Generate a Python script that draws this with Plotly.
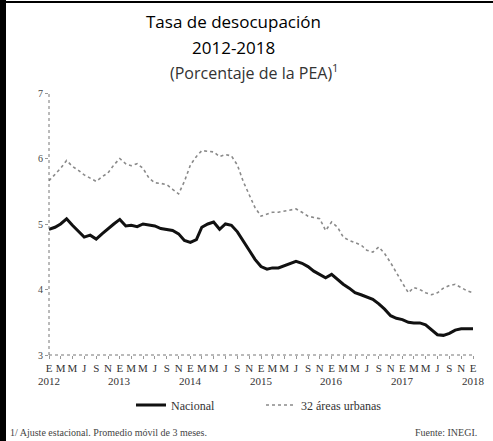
import pandas as pd
import plotly.graph_objects as go

months = pd.date_range("2012-01-01", periods=73, freq="MS")

nacional = [4.92, 4.95, 5.00, 5.08, 4.98, 4.88, 4.80, 4.83, 4.77, 4.85, 4.93, 5.00,
            5.07, 4.97, 4.98, 4.96, 5.00, 4.99, 4.97, 4.93, 4.91, 4.90, 4.85, 4.75,
            4.72, 4.76, 4.95, 5.00, 5.03, 4.92, 5.00, 4.98, 4.88, 4.75, 4.60, 4.46,
            4.35, 4.31, 4.33, 4.33, 4.36, 4.40, 4.43, 4.40, 4.35, 4.28, 4.23, 4.18,
            4.23, 4.15, 4.08, 4.02, 3.95, 3.92, 3.88, 3.85, 3.78, 3.70, 3.60, 3.56,
            3.54, 3.50, 3.49, 3.49, 3.46, 3.38, 3.31, 3.30, 3.33, 3.38, 3.40, 3.40,
            3.40]

urbanas = [5.66, 5.75, 5.85, 5.97, 5.88, 5.82, 5.75, 5.70, 5.65, 5.72, 5.78, 5.90,
           6.00, 5.92, 5.89, 5.92, 5.85, 5.70, 5.63, 5.62, 5.60, 5.53, 5.46, 5.65,
           5.90, 6.03, 6.12, 6.11, 6.10, 6.03, 6.06, 6.04, 5.90, 5.65, 5.45, 5.25,
           5.12, 5.15, 5.18, 5.18, 5.20, 5.22, 5.23, 5.18, 5.12, 5.10, 5.08, 4.90,
           5.03, 4.95, 4.80, 4.75, 4.72, 4.68, 4.60, 4.57, 4.65, 4.55, 4.41, 4.25,
           4.10, 3.95, 4.03, 4.00, 3.95, 3.92, 3.95, 4.02, 4.06, 4.08, 4.03, 3.98,
           3.95]

month_letters = ["E", "M", "M", "J", "S", "N"]
tick_dates = pd.date_range("2012-01-01", "2018-01-01", freq="2MS")
tick_text = [month_letters[(d.month - 1) // 2] for d in tick_dates]
year_dates = pd.date_range("2012-01-01", "2018-01-01", freq="YS")
year_labels = [str(d.year) for d in year_dates]
y_ticks = [3, 4, 5, 6, 7]

W, H = 493, 441
ML, MR, MT, MB = 49, 20, 93, 86
PW, PH = W - ML - MR, H - MT - MB


def px(xp):
    return (xp - ML) / PW


def py(yp):
    return (H - MB - yp) / PH


fig = go.Figure()
fig.add_trace(go.Scatter(x=months, y=nacional, mode="lines", name="Nacional",
                         line=dict(color="#111111", width=3)))
fig.add_trace(go.Scatter(x=months, y=urbanas, mode="lines", name="32 áreas urbanas",
                         line=dict(color="#8a8a8a", width=1.6, dash="dot")))

serif = "Liberation Serif"
annotations = [
    dict(text="Tasa de desocupación", x=px(233), y=py(22), xref="paper", yref="paper",
         xanchor="center", yanchor="middle",
         showarrow=False, font=dict(family="Open Sans", size=17, color="#000")),
    dict(text="2012-2018", x=px(233), y=py(47), xref="paper", yref="paper",
         xanchor="center", yanchor="middle",
         showarrow=False, font=dict(family="Open Sans", size=17, color="#000")),
    dict(text="(Porcentaje de la PEA)<sup>1</sup>", x=px(254), y=py(72), xref="paper",
         yref="paper", xanchor="center", yanchor="middle", showarrow=False,
         font=dict(family="Open Sans", size=16, color="#333")),
    dict(text="1/ Ajuste estacional. Promedio móvil de 3 meses.", x=px(8), y=py(432),
         xref="paper", yref="paper", xanchor="left", yanchor="middle", showarrow=False,
         font=dict(family=serif, size=10, color="#444")),
    dict(text="Fuente: INEGI.", x=px(479), y=py(432), xref="paper", yref="paper",
         xanchor="right", yanchor="middle", showarrow=False,
         font=dict(family=serif, size=10, color="#444")),
]
for d, lab in zip(year_dates, year_labels):
    annotations.append(dict(text=lab, x=d, y=py(381), xref="x", yref="paper",
                            xanchor="center", yanchor="middle", showarrow=False,
                            font=dict(family=serif, size=11, color="#333")))

fig.update_layout(
    width=W, height=H,
    margin=dict(l=ML, r=MR, t=MT, b=MB, autoexpand=False),
    paper_bgcolor="white", plot_bgcolor="white",
    showlegend=True,
    legend=dict(orientation="h", x=0.5, xanchor="center", y=py(405), yanchor="middle",
                font=dict(family=serif, size=12, color="#333"),
                entrywidth=85, bgcolor="rgba(0,0,0,0)"),
    xaxis=dict(range=[months[0], months[-1]], tickvals=tick_dates, ticktext=tick_text,
               tickangle=0, automargin=False,
               showgrid=False, zeroline=False, showline=False,
               ticks="outside", ticklen=3, tickcolor="#999",
               tickfont=dict(family=serif, size=11, color="#333")),
    yaxis=dict(range=[3, 7], tickvals=y_ticks, showgrid=False, zeroline=False,
               automargin=False,
               showline=False, ticks="outside", ticklen=3, tickcolor="#999",
               tickfont=dict(family=serif, size=10, color="#444")),
    shapes=[
        dict(type="line", xref="paper", yref="paper", x0=0, x1=0, y0=0, y1=1,
             line=dict(color="#777", width=1, dash="dot")),
        dict(type="line", xref="paper", yref="paper", x0=0, x1=1, y0=0, y1=0,
             line=dict(color="#777", width=1, dash="dot")),
    ],
    annotations=annotations,
)

frame_js = (
    "document.body.style.margin='0';document.body.style.overflow='hidden';"
    "var d=document.createElement('div');"
    "d.style.cssText='position:fixed;left:0;top:0;width:6px;height:441px;background:#000;z-index:10;pointer-events:none';"
    "document.body.appendChild(d);"
    "var t=document.createElement('div');"
    "t.style.cssText='position:fixed;left:0;top:1px;width:493px;height:2px;background:#000;z-index:10;pointer-events:none';"
    "document.body.appendChild(t);"
)
fig.write_html("out.html", config={"displayModeBar": False}, post_script=frame_js)
